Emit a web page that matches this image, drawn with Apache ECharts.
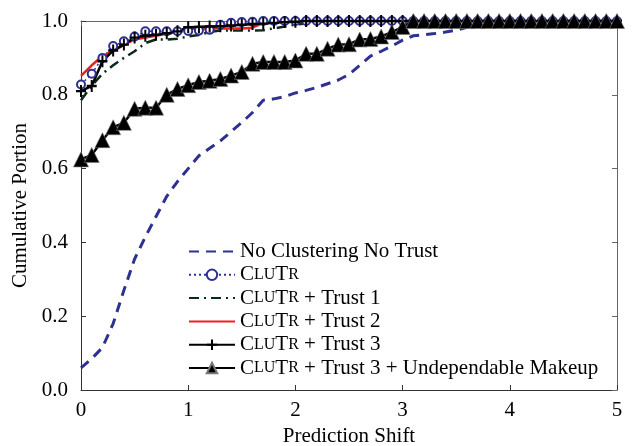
<!DOCTYPE html>
<html>
<head>
<meta charset="utf-8">
<script src="https://cdn.jsdelivr.net/npm/echarts@6/dist/echarts.min.js"></script>
<style>
html, body { margin: 0; padding: 0; background: #fff; }
#main { width: 635px; height: 446px; }
</style>
</head>
<body>
<div id="main"></div>
<script>
// prediction shift values (x)
var shift = [0, 0.1, 0.2, 0.3, 0.4, 0.5, 0.6, 0.7, 0.8, 0.9,
             1, 1.1, 1.2, 1.3, 1.4, 1.5, 1.6, 1.7, 1.8, 1.9,
             2, 2.1, 2.2, 2.3, 2.4, 2.5, 2.6, 2.7, 2.8, 2.9,
             3, 3.1, 3.2, 3.3, 3.4, 3.5, 3.6, 3.7, 3.8, 3.9,
             4, 4.1, 4.2, 4.3, 4.4, 4.5, 4.6, 4.7, 4.8, 4.9, 5];

var noClusterNoTrust = [0.06, 0.085, 0.115, 0.18, 0.27, 0.355, 0.415, 0.47, 0.525, 0.565,
                        0.60, 0.635, 0.655, 0.675, 0.70, 0.725, 0.752, 0.785, 0.789, 0.795,
                        0.805, 0.812, 0.82, 0.83, 0.84, 0.855, 0.88, 0.905, 0.918, 0.932,
                        0.948, 0.96, 0.963, 0.966, 0.97, 0.975, 0.983, 1, 1, 1,
                        1, 1, 1, 1, 1, 1, 1, 1, 1, 1, 1];

var clutr = [0.828, 0.857, 0.90, 0.932, 0.945, 0.958, 0.972, 0.972, 0.972, 0.972,
             0.973, 0.974, 0.976, 0.99, 0.995, 0.997, 0.998, 1, 1, 1,
             1, 1, 1, 1, 1, 1, 1, 1, 1, 1,
             1, 1, 1, 1, 1, 1, 1, 1, 1, 1,
             1, 1, 1, 1, 1, 1, 1, 1, 1, 1, 1];

var trust1 = [0.785, 0.825, 0.857, 0.88, 0.90, 0.918, 0.94, 0.95, 0.95, 0.952,
              0.958, 0.962, 0.97, 0.974, 0.974, 0.974, 0.974, 0.975, 0.98, 0.985,
              0.99, 0.993, 0.996, 1, 1, 1, 1, 1, 1, 1,
              1, 1, 1, 1, 1, 1, 1, 1, 1, 1,
              1, 1, 1, 1, 1, 1, 1, 1, 1, 1, 1];

var trust2 = [0.851, 0.88, 0.905, 0.918, 0.935, 0.95, 0.955, 0.96, 0.966, 0.972,
              0.978, 0.98, 0.98, 0.98, 0.98, 0.98, 0.982, 0.995, 0.998, 1,
              1, 1, 1, 1, 1, 1, 1, 1, 1, 1,
              1, 1, 1, 1, 1, 1, 1, 1, 1, 1,
              1, 1, 1, 1, 1, 1, 1, 1, 1, 1, 1];

var trust3 = [0.81, 0.824, 0.891, 0.92, 0.936, 0.955, 0.96, 0.963, 0.967, 0.972,
              0.983, 0.984, 0.985, 0.986, 0.988, 0.99, 0.992, 0.993, 0.995, 0.997,
              0.998, 1, 1, 1, 1, 1, 1, 1, 1, 1,
              1, 1, 1, 1, 1, 1, 1, 1, 1, 1,
              1, 1, 1, 1, 1, 1, 1, 1, 1, 1, 1];

var trust3Makeup = [0.625, 0.637, 0.677, 0.712, 0.724, 0.762, 0.765, 0.765, 0.80, 0.816,
                    0.826, 0.835, 0.838, 0.843, 0.852, 0.862, 0.884, 0.889, 0.889, 0.889,
                    0.893, 0.911, 0.911, 0.925, 0.936, 0.937, 0.95, 0.951, 0.958, 0.97,
                    0.984, 1, 1, 1, 1, 1, 1, 1, 1, 1,
                    1, 1, 1, 1, 1, 1, 1, 1, 1, 1, 1];

var seriesNames = ['No Clustering No Trust', 'CluTr', 'CluTr + Trust 1',
                   'CluTr + Trust 2', 'CluTr + Trust 3', 'CluTr + Trust 3 + Undependable Makeup'];

var serif = "'Liberation Serif', 'Times New Roman', serif";
var blue = '#2e3192';
var plus = 'path://M4,0 L6,0 L6,4 L10,4 L10,6 L6,6 L6,10 L4,10 L4,6 L0,6 L0,4 L4,4 Z';

function pairs(ys) {
    var out = [];
    for (var i = 0; i < ys.length; i++) out.push([shift[i], ys[i]]);
    return out;
}

// "CluTr" is typeset in small caps
function legendName(name) {
    if (name.indexOf('CluTr') === 0) {
        return '{b|C}{s|LU}{b|T}{s|R}{b|' + name.slice(5) + '}';
    }
    return '{b|' + name + '}';
}

// series drawn without markers: hide the legend's marker, keep the line
var legendData = [
    { name: seriesNames[0], itemStyle: { opacity: 0 } },
    { name: seriesNames[1] },
    { name: seriesNames[2], itemStyle: { opacity: 0 } },
    { name: seriesNames[3], itemStyle: { opacity: 0 } },
    { name: seriesNames[4] },
    { name: seriesNames[5] }
];

var option = {
    animation: false,
    backgroundColor: '#fff',
    grid: { left: 81, right: 18, top: 21, bottom: 56, outerBoundsMode: 'none' },
    legend: {
        orient: 'vertical',
        left: 188,
        top: 241,
        padding: 0,
        itemWidth: 46,
        itemHeight: 13,
        itemGap: 2.3,
        data: legendData,
        formatter: legendName,
        textStyle: {
            color: '#000', fontFamily: serif, fontSize: 21, lineHeight: 16,
            rich: {
                b: { fontFamily: serif, fontSize: 21, color: '#000', lineHeight: 16 },
                s: { fontFamily: serif, fontSize: 16, color: '#000', lineHeight: 16 }
            }
        }
    },
    xAxis: [{
        type: 'value', min: 0, max: 5, interval: 1,
        name: 'Prediction Shift', nameLocation: 'middle', nameGap: 31,
        nameTextStyle: { fontFamily: serif, fontSize: 21, color: '#000' },
        axisLine: { lineStyle: { color: '#333', width: 1 } },
        axisTick: { inside: true, length: 5, lineStyle: { color: '#333' } },
        axisLabel: { fontFamily: serif, fontSize: 21, color: '#000', margin: 10 },
        splitLine: { show: false }
    }, {
        type: 'value', min: 0, max: 5, interval: 1, position: 'top',
        axisLine: { show: true, onZero: false, lineStyle: { color: '#666', width: 1 } },
        axisTick: { inside: true, length: 5, lineStyle: { color: '#666' } },
        axisLabel: { show: false },
        splitLine: { show: false }
    }],
    yAxis: [{
        type: 'value', min: 0, max: 1, interval: 0.2,
        name: 'Cumulative Portion', nameLocation: 'middle', nameGap: 42,
        nameTextStyle: { fontFamily: serif, fontSize: 21, color: '#000' },
        axisLine: { show: true, lineStyle: { color: '#333', width: 1 } },
        axisTick: { show: true, inside: true, length: 5, lineStyle: { color: '#333' } },
        axisLabel: {
            fontFamily: serif, fontSize: 21, color: '#000', margin: 13,
            formatter: function (v) { return v.toFixed(1); }
        },
        splitLine: { show: false }
    }, {
        type: 'value', min: 0, max: 1, interval: 0.2, position: 'right',
        axisLine: { show: true, onZero: false, lineStyle: { color: '#666', width: 1 } },
        axisTick: { show: true, inside: true, length: 5, lineStyle: { color: '#666' } },
        axisLabel: { show: false },
        splitLine: { show: false }
    }],
    series: [{
        name: seriesNames[0], type: 'line', data: pairs(noClusterNoTrust),
        symbol: 'none',
        lineStyle: { color: blue, width: 3, type: [10, 7] },
        itemStyle: { color: blue }
    }, {
        name: seriesNames[1], type: 'line', data: pairs(clutr),
        symbol: 'emptyCircle', symbolSize: 8,
        lineStyle: { color: blue, width: 1.5, type: [2, 3] },
        itemStyle: { color: blue, borderColor: blue, borderWidth: 2.5 }
    }, {
        name: seriesNames[2], type: 'line', data: pairs(trust1),
        symbol: 'none',
        lineStyle: { color: '#0d2a16', width: 2.5, type: [10, 5, 2, 5] },
        itemStyle: { color: '#0d2a16' }
    }, {
        name: seriesNames[3], type: 'line', data: pairs(trust2),
        symbol: 'none',
        lineStyle: { color: '#ee2020', width: 2.5 },
        itemStyle: { color: '#ee2020' }
    }, {
        name: seriesNames[4], type: 'line', data: pairs(trust3),
        symbol: plus, symbolSize: [10, 12],
        lineStyle: { color: '#000', width: 2.5 },
        itemStyle: { color: '#000' }
    }, {
        name: seriesNames[5], type: 'line', data: pairs(trust3Makeup),
        symbol: 'triangle', symbolSize: 15,
        lineStyle: { color: '#000', width: 2.5 },
        itemStyle: { color: '#000', borderColor: '#777', borderWidth: 0.6 }
    }]
};

var myChart = echarts.init(document.getElementById('main'));
myChart.setOption(option);
</script>
</body>
</html>
